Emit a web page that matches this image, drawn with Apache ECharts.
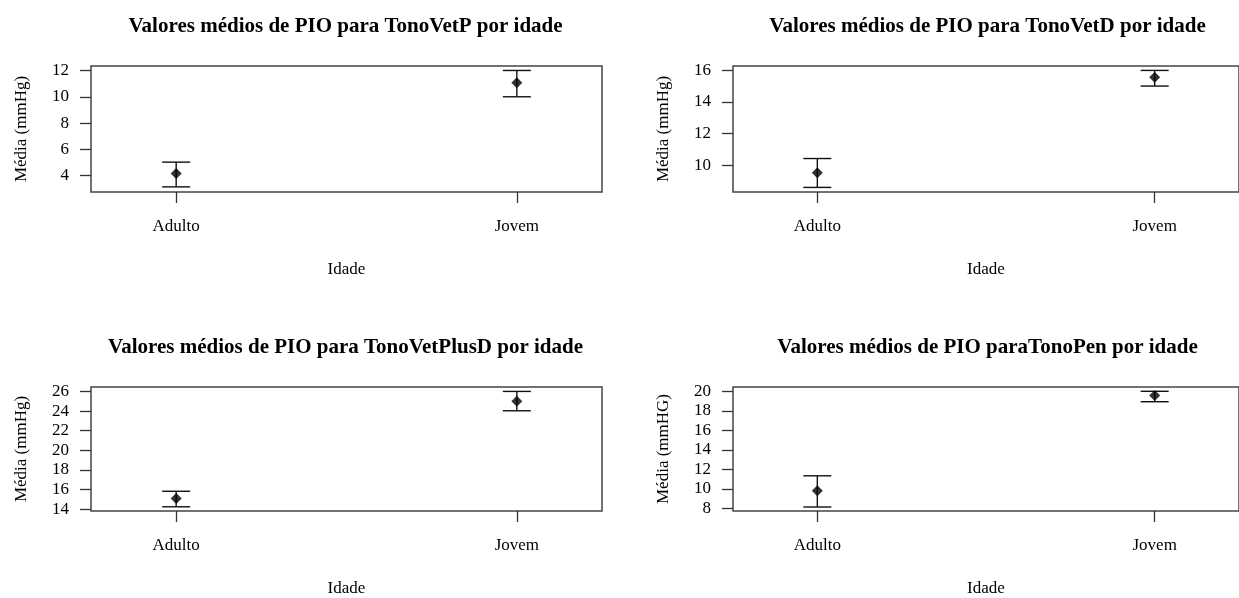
<!DOCTYPE html>
<html>
<head>
<meta charset="utf-8">
<script src="https://cdn.jsdelivr.net/npm/echarts@6/dist/echarts.min.js"></script>
<style>
html,body{margin:0;padding:0;background:#fff;}
#c{width:1239px;height:598px;}
</style>
</head>
<body>
<div id="c"></div>
<script>
// ---- data ----
const categories = ["Adulto", "Jovem"];
const titles = [
  "Valores médios de PIO para TonoVetP por idade",
  "Valores médios de PIO para TonoVetD por idade",
  "Valores médios de PIO para TonoVetPlusD por idade",
  "Valores médios de PIO paraTonoPen por idade"
];
const yNames = ["Média (mmHg)", "Média (mmHg)", "Média (mmHg)", "Média (mmHG)"];
const xName = "Idade";
const meansP = [4.17, 11.07];
const lowerP = [3.15, 10.0];
const upperP = [5.03, 12.0];
const meansD = [9.52, 15.56];
const lowerD = [8.59, 15.01];
const upperD = [10.42, 16.0];
const meansPlusD = [15.1, 25.0];
const lowerPlusD = [14.25, 24.03];
const upperPlusD = [15.83, 26.0];
const meansPen = [9.8, 19.57];
const lowerPen = [8.13, 18.93];
const upperPen = [11.33, 20.0];
const yTicksP = [4, 6, 8, 10, 12];
const yTicksD = [10, 12, 14, 16];
const yTicksPlusD = [14, 16, 18, 20, 22, 24, 26];
const yTicksPen = [8, 10, 12, 14, 16, 18, 20];
const yRanges = [[2.76, 12.34], [8.3, 16.28], [13.82, 26.45], [7.72, 20.44]];

const panels = [
  {means: meansP, lower: lowerP, upper: upperP, ticks: yTicksP},
  {means: meansD, lower: lowerD, upper: upperD, ticks: yTicksD},
  {means: meansPlusD, lower: lowerPlusD, upper: upperPlusD, ticks: yTicksPlusD},
  {means: meansPen, lower: lowerPen, upper: upperPen, ticks: yTicksPen}
];

// ---- layout ----
const gridPos = [
  {left: 91, top: 66},
  {left: 733, top: 66},
  {left: 91, top: 387},
  {left: 733, top: 387}
];
const GW = 511, GH = 126;
const serif = "'Liberation Serif', 'DejaVu Serif', serif";
const axisColor = '#333';

const chart = echarts.init(document.getElementById('c'), null, {renderer: 'canvas'});

const option = {
  backgroundColor: '#fff',
  animation: false,
  title: [], grid: [], xAxis: [], yAxis: [], series: []
};

panels.forEach((p, i) => {
  const g = gridPos[i];
  option.title.push({
    text: titles[i],
    left: g.left + GW / 2 - 6,
    top: g.top - 55,
    textAlign: 'center',
    textStyle: {fontFamily: serif, fontWeight: 'bold', fontSize: 21, color: '#000'}
  });
  option.grid.push({
    left: g.left, top: g.top, width: GW, height: GH,
    show: true, borderColor: '#444', borderWidth: 1.5, backgroundColor: 'transparent'
  });
  option.xAxis.push({
    type: 'value', gridIndex: i, min: 0.75, max: 2.25,
    name: xName, nameLocation: 'middle', nameGap: 69,
    nameTextStyle: {fontFamily: serif, fontSize: 17, color: '#000'},
    axisLine: {show: false},
    splitLine: {show: false},
    axisTick: {show: true, inside: false, length: 11, customValues: [1, 2],
      lineStyle: {color: axisColor, width: 1.3}},
    axisLabel: {customValues: [1, 2], margin: 26,
      formatter: v => categories[Math.round(v) - 1] || '',
      fontFamily: serif, fontSize: 17, color: '#000'}
  });
  option.yAxis.push({
    type: 'value', gridIndex: i, min: yRanges[i][0], max: yRanges[i][1],
    name: yNames[i], nameLocation: 'middle', nameGap: 61, nameRotate: 90,
    nameTextStyle: {fontFamily: serif, fontSize: 17, color: '#000'},
    axisLine: {show: false},
    splitLine: {show: false},
    axisTick: {show: true, inside: false, length: 11, customValues: p.ticks,
      lineStyle: {color: axisColor, width: 1.3}},
    axisLabel: {customValues: p.ticks, margin: 22,
      fontFamily: serif, fontSize: 17, color: '#000'}
  });
  const ebData = categories.map((c, k) => [k + 1, p.lower[k], p.upper[k]]);
  option.series.push({
    type: 'custom', xAxisIndex: i, yAxisIndex: i,
    data: ebData,
    encode: {x: 0, y: [1, 2]},
    renderItem: (params, api) => {
      const x = api.value(0);
      const lo = api.coord([x, api.value(1)]);
      const hi = api.coord([x, api.value(2)]);
      const hw = 14;
      const st = {stroke: '#111', lineWidth: 1.4};
      return {
        type: 'group',
        children: [
          {type: 'line', shape: {x1: lo[0], y1: lo[1], x2: hi[0], y2: hi[1]}, style: st},
          {type: 'line', shape: {x1: lo[0] - hw, y1: lo[1], x2: lo[0] + hw, y2: lo[1]}, style: st},
          {type: 'line', shape: {x1: hi[0] - hw, y1: hi[1], x2: hi[0] + hw, y2: hi[1]}, style: st}
        ]
      };
    }
  });
  option.series.push({
    type: 'scatter', xAxisIndex: i, yAxisIndex: i,
    symbol: 'diamond', symbolSize: 11,
    itemStyle: {color: '#000'},
    data: categories.map((c, k) => [k + 1, p.means[k]]),
    z: 5
  });
});

chart.setOption(option);
</script>
</body>
</html>
